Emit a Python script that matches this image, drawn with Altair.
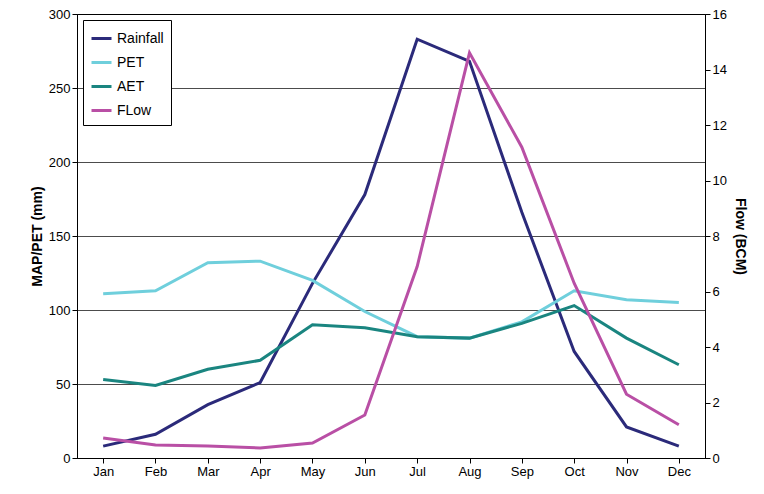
import altair as alt
import pandas as pd

months = ["Jan","Feb","Mar","Apr","May","Jun","Jul","Aug","Sep","Oct","Nov","Dec"]
rainfall = [8,16,36,51,118,178,283,268,166,72,21,8]
pet = [111,113,132,133,120,99,82,81,92,113,107,105]
aet = [53,49,60,66,90,88,82,81,91,103,81,63]
flow = [0.72,0.47,0.43,0.36,0.54,1.55,6.9,14.6,11.2,6.3,2.3,1.2]

rows = []
for name, vals in [("Rainfall", rainfall), ("PET", pet), ("AET", aet)]:
    for m, v in zip(months, vals):
        rows.append({"Month": m, "value": v, "series": name})
left = pd.DataFrame(rows)
right = pd.DataFrame({"Month": months, "flow": flow, "series": "FLow"})

names = ["Rainfall", "PET", "AET", "FLow"]
colors = ["#2b2a7a", "#6fcfdc", "#1a8580", "#b94fa5"]
color = alt.Color("series:N", scale=alt.Scale(domain=names, range=colors),
                  legend=alt.Legend(title=None, orient="none", legendX=6, legendY=6,
                                    strokeColor="black", padding=7, symbolType="stroke",
                                    symbolStrokeWidth=3, symbolSize=400, labelFontSize=14,
                                    labelFont="Liberation Sans", fillColor="white",
                                    rowPadding=5))
x = alt.X("Month:N", sort=months, scale=alt.Scale(type="point", padding=0.5),
          axis=alt.Axis(title=None, labelAngle=0, labelFontSize=13, labelFont="Liberation Sans",
                        labelColor="black", domainColor="black", tickColor="black", grid=False))

l = alt.Chart(left).mark_line(strokeWidth=3).encode(
    x=x,
    y=alt.Y("value:Q", scale=alt.Scale(domain=[0, 300]),
            axis=alt.Axis(title="MAP/PET (mm)", values=list(range(0, 301, 50)), titleFontSize=14,
                          labelFontSize=13, labelFont="Liberation Sans", titleFont="Liberation Sans",
                          labelColor="black", titleColor="black", gridColor="black", gridOpacity=0.7,
                          domainColor="black", tickColor="black")),
    color=color, detail="series:N")
r = alt.Chart(right).mark_line(strokeWidth=3).encode(
    x=x,
    y=alt.Y("flow:Q", scale=alt.Scale(domain=[0, 16]),
            axis=alt.Axis(title="Flow (BCM)", orient="right", values=list(range(0, 17, 2)), grid=False,
                          titleFontSize=14, labelFontSize=13, labelFont="Liberation Sans",
                          titleFont="Liberation Sans", labelColor="black", titleColor="black",
                          domainColor="black", tickColor="black", titlePadding=6)),
    color=color)

chart = alt.layer(l, r).resolve_scale(y="independent").properties(
    width=628, height=444, padding={"left": 22, "top": 0, "right": 8, "bottom": 5}
).configure_view(stroke="black")
chart.save("out.html", embed_options={"renderer": "svg", "actions": False})
